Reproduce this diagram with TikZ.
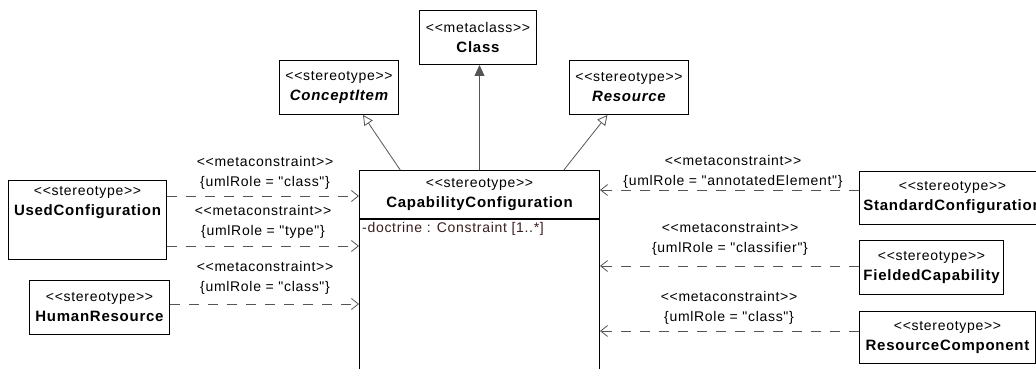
\documentclass[tikz,border=0pt]{standalone}
\usepackage{fontspec}
\usepackage{tikz}
\usetikzlibrary{positioning,calc,arrows.meta}
\newfontfamily\umlfont[LetterSpace=5.0,Ligatures=TeXOff]{Liberation Sans}
\definecolor{linegray}{HTML}{555555}
\definecolor{attrbrown}{HTML}{3A1E1E}
\newcommand{\clsname}[1]{{\fontsize{15}{20}\selectfont\bfseries #1}}

\begin{document}
\begin{tikzpicture}[x=1pt, y=-1pt,
  box/.style={draw=black, line width=1pt, fill=white, inner sep=0pt, align=center,
    anchor=north west, font=\umlfont\fontsize{14}{20}\selectfont},
  meta/.style={align=center, inner sep=0pt, font=\umlfont\fontsize{14}{20}\selectfont},
  dep/.style={draw=linegray, line width=0.8pt, dash pattern=on 10pt off 9pt,
    -{Straight Barb[length=7pt,width=11pt]}},
  gen/.style={draw=linegray, line width=0.8pt, -{Triangle[open,length=10pt,width=10pt,fill=white]}},
  ext/.style={draw=linegray, line width=0.8pt, -{Triangle[length=11pt,width=10pt,fill=linegray]}}]
  \clip (0,0) rectangle (1036,369);
  \fill[white] (0,0) rectangle (1036,369);

  % Metaclass and generalised stereotypes
  \node[box, minimum width=117pt, minimum height=54pt] (cls) at (419,10) {<<metaclass>>\\\clsname{Class}};
  \node[box, minimum width=119pt, minimum height=54pt] (concept) at (279,60) {<<stereotype>>\\\clsname{\itshape ConceptItem}};
  \node[box, minimum width=119pt, minimum height=54pt] (resource) at (569,60) {<<stereotype>>\\\clsname{\itshape Resource}};

  % Central stereotype
  \node[box, minimum width=240pt, minimum height=48pt] (cap) at (359,170) {<<stereotype>>\\\clsname{CapabilityConfiguration}};
  \node[box, minimum width=240pt, minimum height=200pt] (capBody) at (cap.south west) {};
  \node[anchor=north west, inner sep=3pt, text=attrbrown, font=\umlfont\fontsize{14}{20}\selectfont] (capAttr) at (capBody.north west) {-doctrine : Constraint [1..*]};

  % Left stereotypes
  \node[box, minimum width=158pt, minimum height=79pt] (used) at (8,180) {};
  \node[meta, below=6pt of used.north] (usedName) {<<stereotype>>\\\clsname{UsedConfiguration}};
  \node[box, minimum width=140pt, minimum height=54pt] (human) at (29,280) {<<stereotype>>\\\clsname{HumanResource}};

  % Right stereotypes
  \node[box, minimum width=186pt, minimum height=53pt] (std) at (859,171) {<<stereotype>>\\\clsname{StandardConfiguration}};
  \node[box, minimum width=144pt, minimum height=54pt] (fielded) at (859,240) {<<stereotype>>\\\clsname{FieldedCapability}};
  \node[box, minimum width=176pt, minimum height=52pt] (rescomp) at (859,311) {<<stereotype>>\\\clsname{ResourceComponent}};

  % Generalisations
  \draw[gen] ($(cap.north west)!0.171!(cap.north east)$) -- ($(concept.south west)!0.70!(concept.south east)$);
  \draw[ext] (cap.north) -- (cap.north |- cls.south);
  \draw[gen] ($(cap.north west)!0.85!(cap.north east)$) -- ($(resource.south west)!0.32!(resource.south east)$);

  % Metaconstraints
  \coordinate (in1) at ($(cap.north west)+(0,26)$);
  \coordinate (in2) at ($(cap.north west)+(0,76)$);
  \coordinate (in3) at ($(cap.north west)+(0,134)$);
  \coordinate (out1) at ($(cap.north east)+(0,20)$);
  \coordinate (out2) at ($(cap.north east)+(0,96)$);
  \coordinate (out3) at ($(cap.north east)+(0,161)$);

  \draw[dep] (used.east |- in1) -- (in1);
  \draw[dep] (used.east |- in2) -- (in2);
  \draw[dep] (human.east |- in3) -- (in3);
  \draw[dep] (std.west |- out1) -- (out1);
  \draw[dep] (fielded.west |- out2) -- (out2);
  \draw[dep] (rescomp.west |- out3) -- (out3);

  \node[meta] (lblUsedA) at (265,173) {<<metaconstraint>>\\\{umlRole = "class"\}};
  \node[meta] (lblUsedB) at (263,221.5) {<<metaconstraint>>\\\{umlRole = "type"\}};
  \node[meta] (lblHuman) at (265,278) {<<metaconstraint>>\\\{umlRole = "class"\}};
  \node[meta] (lblStd) at (733,172) {<<metaconstraint>>\\\{umlRole = "annotatedElement"\}};
  \node[meta] (lblFielded) at (730,239) {<<metaconstraint>>\\\{umlRole = "classifier"\}};
  \node[meta] (lblResComp) at (729,308) {<<metaconstraint>>\\\{umlRole = "class"\}};
\end{tikzpicture}
\end{document}
